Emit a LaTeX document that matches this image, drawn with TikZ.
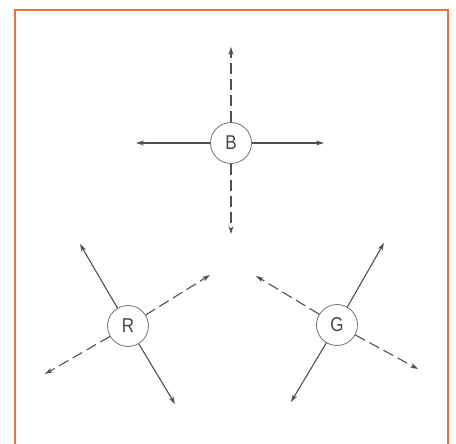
\documentclass[tikz,border=0pt]{standalone}
\usepackage{fontspec}
\setsansfont{Liberation Sans}
\usetikzlibrary{arrows.meta}
\definecolor{frameorange}{RGB}{238,112,62}
\definecolor{arrowgrey}{RGB}{80,80,76}
\begin{document}
\begin{tikzpicture}[x=1pt,y=-1pt,
  colornode/.style={circle,draw=arrowgrey!80,line width=0.8pt,fill=white,minimum size=41pt,inner sep=0pt,font=\sffamily\fontsize{20}{20}\selectfont,text=arrowgrey!90!black},
  vec/.style={draw=arrowgrey,line width=1.1pt,-{Stealth[length=8pt,width=5pt]}},
  dvec/.style={vec,dash pattern=on 11pt off 5pt}]
\useasboundingbox (0,0) rectangle (456,444);
\draw[frameorange,line width=2.4pt] (15,444) -- (15,10) -- (448,10) -- (448,444);
% B
\node[colornode] (B) at (231,143) {\scalebox{0.85}[1]{B}};
\coordinate (Bu) at (231,47);
\coordinate (Bd) at (231,234);
\coordinate (Bl) at (136,143);
\coordinate (Br) at (324,143);
\draw[dvec] (B) -- (Bu);
\draw[dvec] (B) -- (Bd);
\draw[vec] (B) -- (Bl);
\draw[vec] (B) -- (Br);
% R
\node[colornode] (R) at (128,326) {\scalebox{0.85}[1]{R}};
\coordinate (Rul) at (80,244);
\coordinate (Rdr) at (175,404);
\coordinate (Rur) at (210,275);
\coordinate (Rdl) at (45,374);
\draw[vec] (R) -- (Rul);
\draw[vec] (R) -- (Rdr);
\draw[dvec] (R) -- (Rur);
\draw[dvec] (R) -- (Rdl);
% G
\node[colornode] (G) at (337,325) {\scalebox{0.85}[1]{G}};
\coordinate (Gur) at (384,243);
\coordinate (Gdl) at (291,402);
\coordinate (Gul) at (256,276);
\coordinate (Gdr) at (418,369);
\draw[vec] (G) -- (Gur);
\draw[vec] (G) -- (Gdl);
\draw[dvec] (G) -- (Gul);
\draw[dvec] (G) -- (Gdr);
\end{tikzpicture}
\end{document}
